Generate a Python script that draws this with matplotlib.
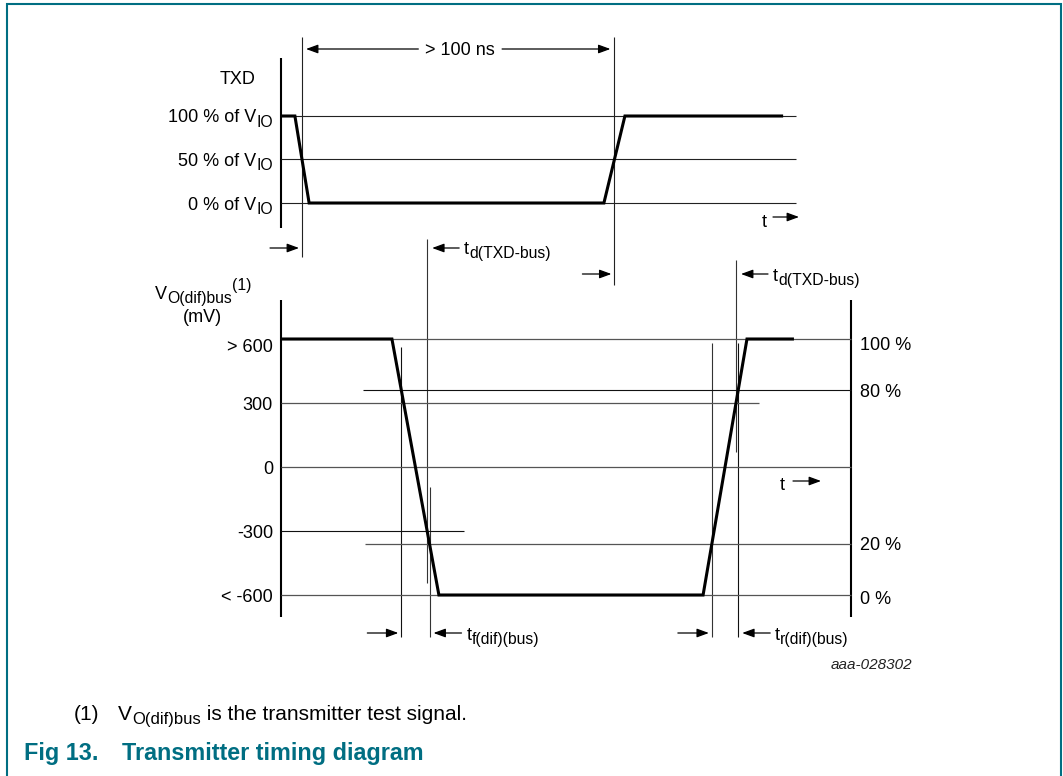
import numpy as np
import matplotlib
matplotlib.use('Agg')
import matplotlib.pyplot as plt

plt.rcParams['font.family'] = ['Liberation Sans', 'DejaVu Sans']

# ---------------- data ----------------
# time in ns (span between the two 50 % TXD crossings ~ 100 ns)
txd_t = [0.0, 4.5, 9.1, 104.5, 111.3, 162.5]
txd_level = [100, 100, 0, 0, 100, 100]            # % of V_IO
bus_t = [0.0, 35.9, 51.1, 136.6, 150.8, 166.0]
bus_mv = [600, 600, -600, -600, 600, 600]         # mV
txd_ticks = [100, 50, 0]
txd_tick_labels = ['100 % of V', '50 % of V', '0 % of V']
bus_ticks = [600, 300, 0, -300, -600]
bus_tick_labels = ['> 600', '300', '0', '-300', '< -600']
pct_levels_mv = [600, 360, -360, -600]
pct_labels = ['100 %', '80 %', '20 %', '0 %']
td_levels_mv = [-300, 300]                        # delay measured at -300 mV (fall) / 300 mV (rise)

# ---------------- layout ----------------
W, H = 1063, 776
T_PX0, PX_PER_NS, T_MAX = 281, 3.09, 200
TEAL = '#006E82'
FS, FS_SUB = 13, 11.3

fig = plt.figure(figsize=(W / 100, H / 100), dpi=100)
fig.patch.set_facecolor('white')
ov = fig.add_axes([0, 0, 1, 1])
ov.set_xlim(0, W)
ov.set_ylim(H, 0)
ov.axis('off')


def panel(top_px, bottom_px, ylim):
    ax = fig.add_axes([T_PX0 / W, 1 - bottom_px / H, T_MAX * PX_PER_NS / W, (bottom_px - top_px) / H])
    ax.set_xlim(0, T_MAX)
    ax.set_ylim(*ylim)
    ax.axis('off')
    ax.patch.set_visible(False)
    return ax


ax_txd = panel(116, 203, (0, 100))
ax_bus = panel(339, 595, (-600, 600))
R = fig.canvas.get_renderer()


def tx(t):
    return ax_bus.transData.transform((t, 0))[0]


def ypx(ax, v):
    return H - ax.transData.transform((0, v))[1]


def crossing(t, v, level, i):
    return t[i] + (level - v[i]) / (v[i + 1] - v[i]) * (t[i + 1] - t[i])


def rich(x, y, parts, ha='left', **kw):
    objs, widths = [], []
    for s, fs, dy in parts:
        o = ov.text(0, 0, s, fontsize=fs, va='baseline', ha='left', **kw)
        objs.append((o, dy))
        widths.append(o.get_window_extent(R).width)
    total = sum(widths)
    x0 = x - total if ha == 'right' else (x - total / 2 if ha == 'center' else x)
    for (o, dy), w in zip(objs, widths):
        o.set_position((x0, y + dy))
        x0 += w
    return total


def arrow(x_tip, x_tail, y):
    ov.annotate('', xy=(x_tip, y), xytext=(x_tail, y),
                arrowprops=dict(arrowstyle='-|>,head_length=0.6,head_width=0.22', lw=0.9,
                                color='k', shrinkA=0, shrinkB=0, mutation_scale=12))


# frame
ov.plot([7, 7, 1061, 1061], [H + 5, 4, 4, H + 5], color=TEAL, lw=1.5, clip_on=False,
        solid_joinstyle='miter')

# ---------------- TXD panel ----------------
ov.vlines(tx(0), 58, 228, color='k', lw=1.5)
ax_txd.hlines(txd_ticks, 0, 166.7, color='#222', lw=0.8, clip_on=False)
ax_txd.plot(txd_t, txd_level, color='k', lw=2.2, clip_on=False, solid_joinstyle='miter',
            solid_capstyle='butt')
rich(238, 83.5, [('TXD', FS, 0)], ha='center')
for v, lab in zip(txd_ticks, txd_tick_labels):
    rich(273, ypx(ax_txd, v) + 6.5, [(lab, FS, 0), ('IO', FS_SUB, 4.5)], ha='right')
rich(762, 227, [('t', FS, 0)])
arrow(799, 773, 217)

# ---------------- bus panel ----------------
ov.vlines(tx(0), 300, 617, color='k', lw=1.5)
ov.vlines(tx(184.5), 300, 617, color='k', lw=1.5)
ax_bus.hlines([600, 0, -600], 0, 184.5, color='#555', lw=0.9, clip_on=False)
ax_bus.hlines(300, 0, 154.7, color='#555', lw=0.9, clip_on=False)
ax_bus.hlines(-300, 0, 59.2, color='#111', lw=0.8, clip_on=False)
ax_bus.hlines(pct_levels_mv[1], 26.5, 184.5, color='#111', lw=0.8, clip_on=False)
ax_bus.hlines(pct_levels_mv[2], 27.2, 184.5, color='#555', lw=0.9, clip_on=False)
ax_bus.plot(bus_t, bus_mv, color='k', lw=2.2, clip_on=False, solid_joinstyle='miter',
            solid_capstyle='butt')
for v, lab, dy in zip(bus_ticks, bus_tick_labels, [13, 7, 7, 7, 7]):
    rich(273, ypx(ax_bus, v) + dy, [(lab, FS, 0)], ha='right')
for v, lab, dy in zip(pct_levels_mv, pct_labels, [10.5, 6.5, 6.5, 8.5]):
    rich(860, ypx(ax_bus, v) + dy, [(lab, FS, 0)])
rich(155, 299, [('V', FS, 0), ('O(dif)bus', FS_SUB, 4), ('(1)', FS_SUB, -9)])
rich(202, 322, [('(mV)', FS, 0)], ha='center')
rich(780, 490, [('t', FS, 0)])
arrow(821, 793, 481)

# ---------------- timing marks ----------------
x_f50 = tx(crossing(txd_t, txd_level, 50, 1))
x_r50 = tx(crossing(txd_t, txd_level, 50, 3))
x_ftd = tx(crossing(bus_t, bus_mv, td_levels_mv[0], 1))
x_rtd = tx(crossing(bus_t, bus_mv, td_levels_mv[1], 3))
x_f80 = tx(crossing(bus_t, bus_mv, pct_levels_mv[1], 1))
x_f20 = tx(crossing(bus_t, bus_mv, pct_levels_mv[2], 1))
x_r20 = tx(crossing(bus_t, bus_mv, pct_levels_mv[2], 3))
x_r80 = tx(crossing(bus_t, bus_mv, pct_levels_mv[1], 3))

ov.vlines(x_f50, 37, 257, color='#222', lw=0.8)
ov.vlines(x_r50, 37, 285, color='#222', lw=0.8)
ov.vlines(x_ftd, 239, 583, color='#333', lw=0.8)
ov.vlines(x_rtd, 260, 452, color='#333', lw=0.8)
ov.vlines(x_f80, 347, 637, color='#111', lw=0.8)
ov.vlines(x_f20, 487, 637, color='#333', lw=0.8)
ov.vlines(x_r20, 343, 637, color='#333', lw=0.8)
ov.vlines(x_r80, 343, 637, color='#111', lw=0.8)

# > 100 ns
xc = (x_f50 + x_r50) / 2 + 2
w = rich(xc, 55, [('> 100 ns', FS, 0)], ha='center')
arrow(x_f50 + 4, xc - w / 2 - 7, 49)
arrow(x_r50 - 4, xc + w / 2 + 7, 49)

# t_d(TXD-bus) marks
for x_from, x_to, y, yb in [(x_f50, x_ftd, 248, 254), (x_r50, x_rtd, 274, 281)]:
    arrow(x_from - 3, x_from - 32, y)
    arrow(x_to + 5, x_to + 32, y)
    rich(x_to + 37, yb, [('t', FS, 0), ('d(TXD-bus)', FS_SUB, 4)])

# t_f / t_r marks
for x_from, x_to, sub in [(x_f80, x_f20, 'f(dif)(bus)'), (x_r20, x_r80, 'r(dif)(bus)')]:
    arrow(x_from - 3, x_from - 34, 633)
    arrow(x_to + 4, x_to + 32, 633)
    rich(x_to + 37, 640, [('t', FS, 0), (sub, FS_SUB, 4)])

ov.text(912, 669, 'aaa-028302', ha='right', va='baseline', style='italic', fontsize=11,
        color='#222')

# ---------------- footnote & caption ----------------
rich(74, 720, [('(1)', 15, 0)])
rich(118, 720, [('V', 15, 0), ('O(dif)bus', 12, 4), (' is the transmitter test signal.', 15, 0)])
rich(24, 760, [('Fig 13.', 16.8, 0)], weight='bold', color=TEAL)
rich(122, 760, [('Transmitter timing diagram', 16.8, 0)], weight='bold', color=TEAL)

fig.savefig('out.png', dpi=100, facecolor='white')
